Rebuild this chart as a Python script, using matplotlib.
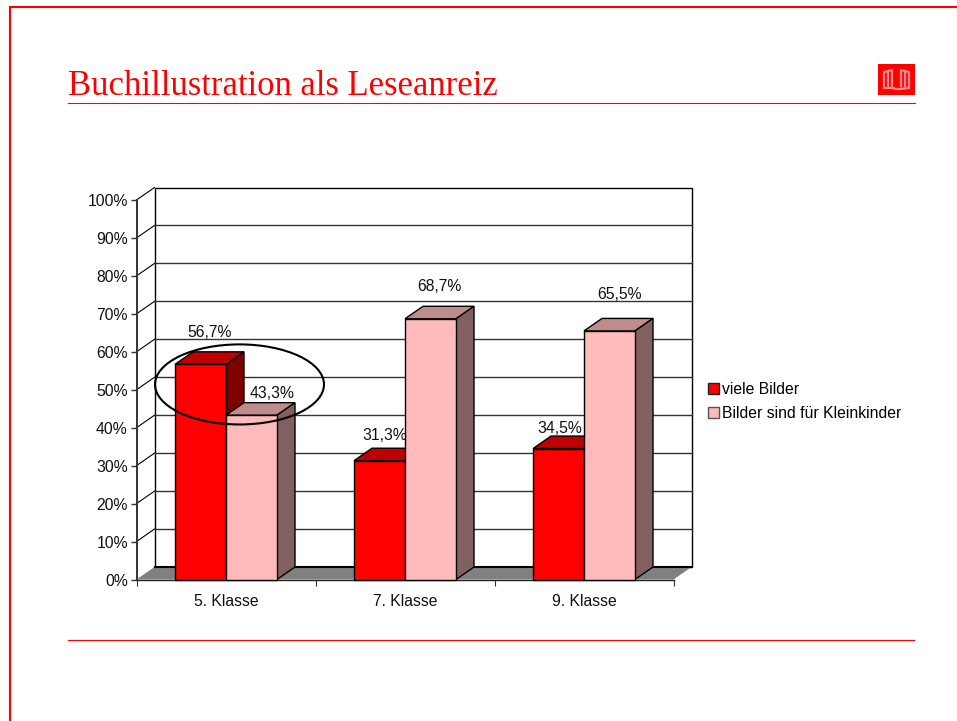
"""Slide with a pseudo-3D grouped column chart: Buchillustration als Leseanreiz."""
import matplotlib

matplotlib.use("Agg")
import matplotlib.pyplot as plt
from matplotlib.lines import Line2D
from matplotlib.patches import Ellipse, Patch, Polygon, Rectangle

plt.rcParams["font.family"] = ["Liberation Sans", "DejaVu Sans"]

categories = ["5. Klasse", "7. Klasse", "9. Klasse"]
viele_bilder = [56.7, 31.3, 34.5]
kleinkinder = [43.3, 68.7, 65.5]
series_names = ["viele Bilder", "Bilder sind für Kleinkinder"]
yticks = [0, 10, 20, 30, 40, 50, 60, 70, 80, 90, 100]

# label anchors, offset from the front top centre of each bar (category units, %)
red_offsets = [(0.05, 8.3), (0.028, 6.7), (0.005, 5.2)]
pink_offsets = [(0.115, 5.8), (0.05, 8.6), (0.055, 9.6)]

RED = ("#FF0000", "#BF0000", "#800000")  # front, top, side
PINK = ("#FFBBBB", "#BF8C8C", "#806060")
RULE = "#FF0000"
W, H = 957, 721

# depth of the fake 3D box, in data units
DX = 18 / 179
DY = 12.5 / 3.795
BAR_W = 51 / 179
LABEL_SIZE = 11.3


def fx(px):
    return px / W


def fy(py):
    return 1 - py / H


def draw_bar(ax, x0, v, colors):
    x1 = x0 + BAR_W
    front, top, side = colors
    ax.add_patch(Polygon([(x0, v), (x0 + DX, v + DY), (x1 + DX, v + DY), (x1, v)],
                         fc=top, ec="black", lw=1, zorder=4, clip_on=False))
    ax.add_patch(Polygon([(x1, 0), (x1 + DX, DY), (x1 + DX, v + DY), (x1, v)],
                         fc=side, ec="black", lw=1, zorder=4, clip_on=False))
    ax.add_patch(Rectangle((x0, 0), BAR_W, v, fc=front, ec="black", lw=1,
                           zorder=4, clip_on=False))


fig = plt.figure(figsize=(W / 100, H / 100), dpi=100, facecolor="white")

# slide decoration
fig.add_artist(Line2D([fx(10), fx(10)], [fy(7), 0], color=RULE, lw=1.5))
fig.add_artist(Line2D([fx(10), 1], [fy(7), fy(7)], color=RULE, lw=1.5))
fig.add_artist(Line2D([fx(68), fx(915)], [fy(103), fy(103)], color=RULE, lw=0.8, zorder=10))
fig.add_artist(Line2D([fx(68), fx(914)], [fy(640), fy(640)], color=RULE, lw=0.8))
fig.text(fx(68), fy(95), "Buchillustration als Leseanreiz", color=RULE, fontsize=24.9,
         family=["Liberation Serif", "DejaVu Serif"], ha="left", va="baseline")

# book icon
fig.add_artist(Rectangle((fx(878), fy(95)), 37 / W, 31 / H, fc="#FF0000", ec="none",
                         transform=fig.transFigure))
book = "#FF8C8C"
for xs, ys in [
    ([884, 884, 892, 892], [87, 72, 70, 86]),
    ([909, 909, 901, 901], [87, 72, 70, 86]),
    ([884, 893, 896, 900, 909], [88, 88, 89, 89, 88]),
    ([888, 888], [72, 86]),
    ([905, 905], [72, 86]),
]:
    fig.add_artist(Line2D([fx(x) for x in xs], [fy(y) for y in ys], color=book, lw=1.6))

# front plane of the chart box is the real axes
ax = fig.add_axes([fx(136.5), fy(579.5), 537 / W, 379.5 / H])
ax.set_xlim(0, len(categories))
ax.set_ylim(0, 100)
ax.patch.set_visible(False)

# back wall, floor and side wall
ax.add_patch(Rectangle((DX, DY), len(categories), 100, fc="white", ec="black", lw=1,
                       zorder=1, clip_on=False))
for t in yticks[1:-1]:
    ax.plot([DX, DX + len(categories)], [t + DY, t + DY], color="#333333", lw=1,
            zorder=2, clip_on=False)
for t in yticks[1:]:
    ax.plot([0, DX], [t, t + DY], color="black", lw=0.8, zorder=2, clip_on=False)
ax.add_patch(Polygon([(0, 0), (DX, DY), (DX + len(categories), DY), (len(categories), 0)],
                     fc="#808080", ec="none", zorder=2, clip_on=False))
ax.plot([DX, DX + len(categories)], [DY, DY], color="black", lw=1.5, zorder=3,
        clip_on=False)

for i, (a, b) in enumerate(zip(viele_bilder, kleinkinder)):
    x0 = i + 0.5 - BAR_W
    draw_bar(ax, x0, a, RED)
    draw_bar(ax, x0 + BAR_W, b, PINK)
    ox, oy = red_offsets[i]
    ax.text(x0 + BAR_W / 2 + ox, a + oy, f"{a:.1f}%".replace(".", ","), ha="center",
            va="center", fontsize=LABEL_SIZE, color="#111111", zorder=6)
    ox, oy = pink_offsets[i]
    ax.text(x0 + 1.5 * BAR_W + ox, b + oy, f"{b:.1f}%".replace(".", ","), ha="center",
            va="center", fontsize=LABEL_SIZE, color="#111111", zorder=6)

# circled first group
ax.add_patch(Ellipse((103 / 179, 51.4), 169 / 179, 21.1, fc="none", ec="black", lw=1.5,
                     zorder=7, clip_on=False))

ax.set_yticks(yticks)
ax.set_yticklabels([f"{t}%" for t in yticks])
ax.set_xticks(range(len(categories) + 1))
ax.set_xticklabels([])
ax.set_xticks([i + 0.5 for i in range(len(categories))], minor=True)
ax.set_xticklabels(categories, minor=True)
ax.tick_params(axis="x", which="minor", length=0, pad=10.2, labelsize=LABEL_SIZE,
               colors="#111111")
ax.tick_params(axis="x", which="major", length=4.5, width=0.8, color="#333333")
ax.tick_params(axis="y", length=4.3, width=1, pad=2, labelsize=LABEL_SIZE,
               color="#333333", labelcolor="#111111")
for sp in ("top", "right"):
    ax.spines[sp].set_visible(False)
ax.spines["left"].set_color("#333333")
ax.spines["left"].set_linewidth(1.4)
ax.spines["left"].set_zorder(5)
ax.spines["bottom"].set_color("#222222")
ax.spines["bottom"].set_linewidth(1)
ax.spines["bottom"].set_zorder(3)

handles = [Patch(fc=RED[0], ec="#222222", lw=1, label=series_names[0]),
           Patch(fc=PINK[0], ec="#555555", lw=1, label=series_names[1])]
fig.legend(handles=handles, loc="center left", bbox_to_anchor=(fx(708), fy(401.5)),
           frameon=False, fontsize=LABEL_SIZE, borderpad=0, borderaxespad=0,
           handlelength=0.7, handleheight=0.7, handletextpad=0.2, labelspacing=0.62)

fig.savefig("out.png", dpi=100)
